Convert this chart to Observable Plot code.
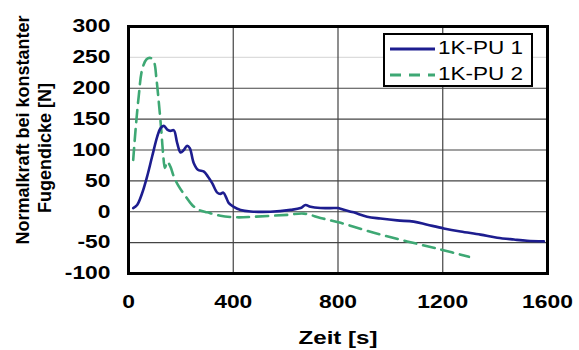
<!DOCTYPE html>
<html>
<head>
<meta charset="utf-8">
<script src="https://cdn.jsdelivr.net/npm/d3@7"></script>
<script src="https://cdn.jsdelivr.net/npm/@observablehq/plot@0.6"></script>
<style>
  html, body { margin: 0; padding: 0; background: #fff; }
  #wrap { position: relative; width: 579px; height: 350px; font-family: "Liberation Sans", Arial, sans-serif; }
  #legend { position: absolute; left: 383px; top: 33px; width: 146px; height: 50px; border: 2px solid #000; background: #fff; }
  .row { position: absolute; left: 0; height: 20px; }
  .row svg { position: absolute; left: 3px; top: 0; }
  .row span { position: absolute; left: 53px; top: -1px; font-size: 18px; line-height: 20px; color: #000; transform: scaleX(1.25); transform-origin: left center; white-space: nowrap; }
</style>
</head>
<body>
<div id="wrap"></div>
<script>
// Series 1: 1K-PU 1
const time1 = [18, 33, 52, 71, 90, 110, 122, 135, 148, 160, 173, 186, 199, 211, 224, 234, 249, 265, 288, 303, 320, 339, 351, 362, 374, 383, 402, 428, 466, 542, 619, 657, 676, 695, 733, 784, 800, 816, 860, 911, 962, 1026, 1089, 1141, 1204, 1268, 1344, 1408, 1472, 1522, 1586];
const force1 = [6, 11, 30, 57, 89, 122, 135, 139, 133, 131, 132, 111, 96, 100, 107, 103, 79, 68, 65, 57, 46, 31, 29, 31, 22, 14, 8, 3, 0.5, 0, 3, 6, 11, 8, 6, 6, 6, 4, -1, -8, -11, -14, -16, -21, -27, -32, -37, -42, -45, -47, -48];
// Series 2: 1K-PU 2
const time2 = [18, 27, 39, 52, 69, 84, 97, 107, 116, 125, 132, 139, 148, 160, 173, 192, 218, 243, 269, 301, 351, 415, 479, 606, 670, 733, 810, 937, 1064, 1191, 1300];
const force2 = [84, 133, 187, 230, 247, 249, 243, 214, 176, 133, 95, 71, 81, 73, 57, 41, 25, 11, 3, -1, -6.5, -9, -8, -5, -3, -10, -18, -34, -48, -61, -73];

const seriesNames = ["1K-PU 1", "1K-PU 2"];
const xTicks = [0, 400, 800, 1200, 1600];
const yTicks = [-100, -50, 0, 50, 100, 150, 200, 250, 300];
const gridXValues = [400, 800, 1200];
const gridYDark = [-50, 0, 50, 100, 150, 200];
const gridYLight = [250];
const xTitle = "Zeit [s]";
const yTitleLines = ["Normalkraft bei konstanter", "Fugendicke [N]"];

const navy = "#1d1d8f";
const green = "#3ea874";

const data1 = time1.map((t, i) => ({t, f: force1[i]}));
const data2 = time2.map((t, i) => ({t, f: force2[i]}));

const font = "Liberation Sans, Arial, sans-serif";

const chart = Plot.plot({
  width: 579,
  height: 350,
  marginLeft: 128,
  marginRight: 32,
  marginTop: 26,
  marginBottom: 77,
  style: {fontFamily: font, fontSize: "18px", fontWeight: "bold", background: "#fff", color: "#000"},
  x: {domain: [0, 1600]},
  y: {domain: [-100, 300]},
  marks: [
    Plot.ruleY(gridYLight, {stroke: "#dcdcdc", strokeWidth: 1.2}),
    Plot.ruleY(gridYDark, {stroke: "#444", strokeWidth: 1.2}),
    Plot.ruleX(gridXValues, {stroke: "#444", strokeWidth: 1.2}),
    Plot.line(data2, {x: "t", y: "f", stroke: green, strokeWidth: 2.6, strokeDasharray: "12,7", curve: "catmull-rom"}),
    Plot.line(data1, {x: "t", y: "f", stroke: navy, strokeWidth: 2.6, curve: "catmull-rom"}),
    Plot.frame({stroke: "#000", strokeWidth: 3}),
    Plot.axisX({ticks: xTicks, tickFormat: d => String(d), tickSize: 0, tickPadding: 22, label: null, fontSize: 18, fontWeight: "bold", fontFamily: font}),
    Plot.axisY({ticks: yTicks, tickFormat: d => String(d), tickSize: 0, tickPadding: 18, label: null, fontSize: 18, fontWeight: "bold", fontFamily: font}),
    Plot.text([xTitle], {frameAnchor: "bottom", dy: 64, text: d => d, fontSize: 19, fontWeight: "bold", fontFamily: font, lineAnchor: "middle"})
  ]
});

const wrap = document.getElementById("wrap");
wrap.appendChild(chart);

// Horizontal stretch of the horizontal texts, as in the reference picture
const stretch = 1.27;
chart.querySelectorAll("text").forEach(t => {
  const tr = t.getAttribute("transform") || "";
  const b = t.getBBox();
  const anchor = getComputedStyle(t).textAnchor;
  const cx = anchor === "end" ? b.x + b.width : anchor === "start" ? b.x : b.x + b.width / 2;
  t.setAttribute("transform", `${tr} translate(${cx},0) scale(${stretch},1) translate(${-cx},0)`);
});

// Rotated two-line y-axis title
const yTitlePos = [[23, 130], [45, 148]];
const svg = d3.select(chart);
yTitleLines.forEach((line, i) => {
  svg.append("text")
    .attr("transform", `translate(${yTitlePos[i][0]},${yTitlePos[i][1]}) rotate(-90)`)
    .attr("text-anchor", "middle")
    .attr("dy", "0.35em")
    .attr("font-family", font)
    .attr("font-size", 18)
    .attr("font-weight", "bold")
    .attr("fill", "#000")
    .text(line);
});

// Legend
const legend = document.createElement("div");
legend.id = "legend";
const styles = [{color: navy, dash: null}, {color: green, dash: "11,8"}];
seriesNames.forEach((name, i) => {
  const row = document.createElement("div");
  row.className = "row";
  row.style.top = (i === 0 ? 4 : 30) + "px";
  const s = styles[i];
  row.innerHTML = `<svg width="48" height="20"><line x1="2" x2="47" y1="10" y2="10" stroke="${s.color}" stroke-width="3" ${s.dash ? `stroke-dasharray="${s.dash}"` : ""}/></svg><span>${name}</span>`;
  legend.appendChild(row);
});
wrap.appendChild(legend);
</script>
</body>
</html>
